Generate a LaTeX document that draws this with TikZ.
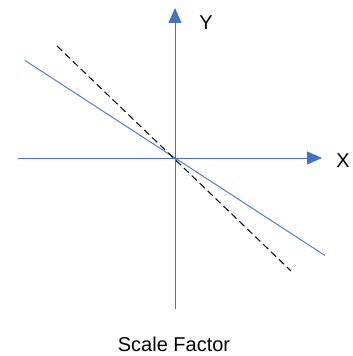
\documentclass[tikz,border=0pt]{standalone}
\usepackage{fontspec}
\setmainfont{Liberation Sans}
\usetikzlibrary{arrows.meta}
\definecolor{axiscolor}{RGB}{68,114,196}

\begin{document}
\begin{tikzpicture}[x=1pt, y=1pt,
  axis/.style={draw=axiscolor, line width=0.9pt, -{Triangle[length=15pt, width=13pt]}},
  lineblue/.style={draw=axiscolor, line width=0.9pt},
  linedash/.style={draw=black, line width=1pt, dash pattern=on 7pt off 4pt},
  lbl/.style={font=\fontsize{20}{24}\selectfont, inner sep=0pt}]

\useasboundingbox (0,0) rectangle (353,356);

% Origin and axis ends
\coordinate (origin) at (175,198);
\coordinate (xstart) at (18,198);
\coordinate (xend) at (322,198);
\coordinate (ystart) at (175,47);
\coordinate (yend) at (175,348);

% Axes
\draw[lineblue] (xstart) -- (origin);
\draw[axis] (origin) -- (xend);
\draw[lineblue] (ystart) -- (origin);
\draw[axis] (origin) -- (yend);

% Solid line through the origin
\coordinate (blueleft) at (25,295.5);
\coordinate (blueright) at (325,100.5);
\draw[lineblue] (blueleft) -- (blueright);

% Dashed line through the origin
\coordinate (dashleft) at (57,310);
\coordinate (dashright) at (291,85);
\draw[linedash] (dashleft) -- (dashright);

% Labels
\node[lbl] (ylabel) at (206,333) {Y};
\node[lbl] (xlabel) at (343,195) {X};
\node[lbl] (caption) at (174,11.5) {Scale Factor};

\end{tikzpicture}
\end{document}
